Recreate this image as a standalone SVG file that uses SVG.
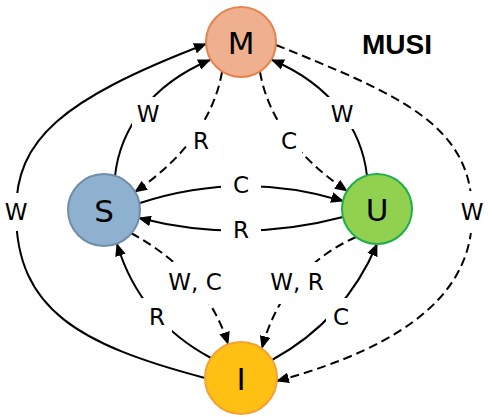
<svg xmlns="http://www.w3.org/2000/svg" width="503" height="417" viewBox="0 0 503 417">
<style>
.c{fill:none;stroke:#000;stroke-width:2;marker-end:url(#arr)}
.d{stroke-dasharray:9 5}
.lb{fill:#fff}
.t{font-family:"DejaVu Sans","Noto Sans",sans-serif;font-size:23px;fill:#000;text-anchor:middle;dominant-baseline:central}
.n{font-family:"DejaVu Sans","Noto Sans",sans-serif;font-size:31px;fill:#000;text-anchor:middle;dominant-baseline:central}
.node{stroke-width:2}
</style>
<defs>
<marker id="arr" viewBox="0 0 12 10" refX="11" refY="5" markerWidth="13" markerHeight="11" markerUnits="userSpaceOnUse" orient="auto">
<path d="M0,0 L12,5 L0,10 z" fill="#000"/>
</marker>
</defs>
<rect width="503" height="417" fill="#fff"/>
<g id="connectors">
<path class="c" d="M 205 378 C 80 345, 16 310, 16 212 C 16 140, 60 100, 206 44"/>
<path class="c" d="M 115 176 C 120 130, 150 85, 210 60"/>
<path class="c" d="M 367 176 C 362 130, 332 85, 272 60"/>
<path class="c d" d="M 222 72 Q 210 140, 135 192"/>
<path class="c d" d="M 260 72 Q 272 140, 347 191"/>
<path class="c" d="M 140 203 Q 241 170, 343 201"/>
<path class="c" d="M 343 217 Q 241 244, 139 218"/>
<path class="c d" d="M 131 233 Q 207 275, 228 344"/>
<path class="c d" d="M 356 237 Q 283 270, 262 348"/>
<path class="c" d="M 211 358 Q 140 320, 117 244"/>
<path class="c" d="M 272 360 Q 345 320, 377 244"/>
<path class="c d" d="M 276 45 C 400 95, 472 125, 472 212 C 474 290, 410 345, 277 381"/>
</g>
<g id="edge-labels">
<rect class="lb" x="2" y="193" width="28" height="38"/><text class="t" x="16" y="212">W</text>
<rect class="lb" x="132" y="97" width="32" height="32"/><text class="t" x="148" y="114">W</text>
<rect class="lb" x="326" y="97" width="32" height="32"/><text class="t" x="342" y="114">W</text>
<rect class="lb" x="188" y="123" width="26" height="34"/><text class="t" x="201" y="141">R</text>
<rect class="lb" x="276" y="123" width="26" height="34"/><text class="t" x="289" y="141">C</text>
<rect class="lb" x="221" y="171" width="40" height="28"/><text class="t" x="241" y="185">C</text>
<rect class="lb" x="221" y="216" width="40" height="28"/><text class="t" x="241" y="230">R</text>
<rect class="lb" x="165" y="262" width="60" height="42"/><text class="t" x="195" y="282">W, C</text>
<rect class="lb" x="267" y="262" width="60" height="42"/><text class="t" x="297" y="282">W, R</text>
<rect class="lb" x="142" y="298" width="30" height="38"/><text class="t" x="157" y="317">R</text>
<rect class="lb" x="326" y="298" width="30" height="38"/><text class="t" x="341" y="317">C</text>
<rect class="lb" x="458" y="191" width="28" height="42"/><text class="t" x="472" y="212">W</text>
</g>
<g id="node-M"><circle class="node" cx="241" cy="42" r="35" fill="#EFB08F" stroke="#E8824C"/><text class="n" x="241" y="43">M</text></g>
<g id="node-S"><circle class="node" cx="104" cy="210" r="36" fill="#8FB1D0" stroke="#6F8DAB"/><text class="n" x="104" y="211">S</text></g>
<g id="node-U"><circle class="node" cx="377" cy="209" r="35" fill="#92D050" stroke="#1DAF4A"/><text class="n" x="377" y="210">U</text></g>
<g id="node-I"><circle class="node" cx="241" cy="378" r="36" fill="#FFC014" stroke="#F5A033"/><text class="n" x="241" y="379">I</text></g>
<text x="397" y="54" font-family="'Liberation Sans',Arial,sans-serif" font-weight="bold" font-size="28" text-anchor="middle" fill="#000">MUSI</text>
</svg>
